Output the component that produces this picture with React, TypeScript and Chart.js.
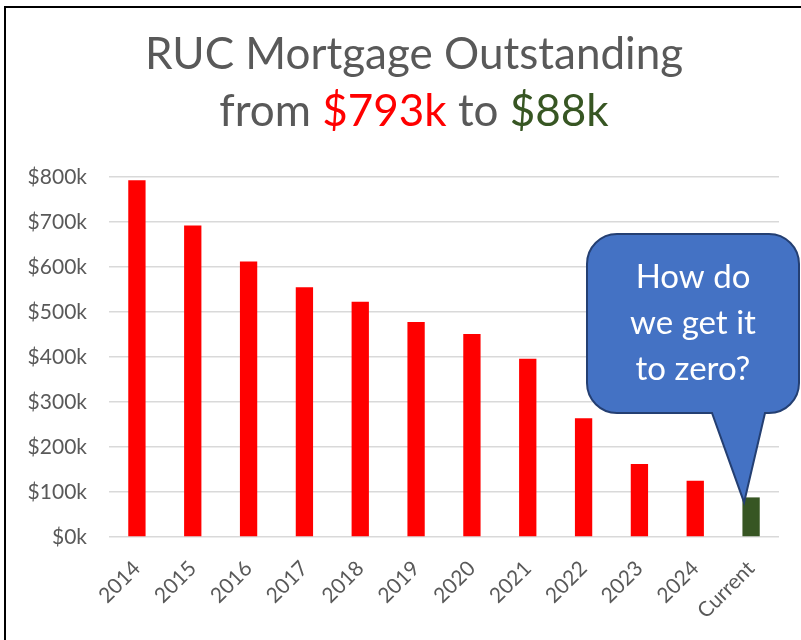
import React, { useEffect, useRef } from 'react';
import { Chart, registerables } from 'chart.js';

Chart.register(...registerables);

// ---- data ----
const categories = ['2014', '2015', '2016', '2017', '2018', '2019', '2020', '2021', '2022', '2023', '2024', 'Current'];
const balancesK = [793, 692, 612, 555, 523, 478, 451, 396, 264, 162, 125, 88];
const yMin = 0;
const yMax = 800;
const yStep = 100;

const titleLine1 = 'RUC Mortgage Outstanding';
const titleLine2Parts = [
  { text: 'from ', role: 'gray' },
  { text: '$793k', role: 'red' },
  { text: ' to ', role: 'gray' },
  { text: '$88k', role: 'green' },
];
const calloutLines = ['How do', 'we get it', 'to zero?'];

// ---- styles ----
const RED = '#FF0000';
const GREEN = '#375623';
const GRAY = '#595959';
const GRID = '#D9D9D9';
const CALLOUT_FILL = '#4472C4';
const CALLOUT_STROKE = '#243F72';
const FONT = 'Lato, "Open Sans", sans-serif';
const roleColor: Record<string, string> = { gray: GRAY, red: RED, green: GREEN };

const barColors = categories.map((c) => (c === 'Current' ? GREEN : RED));

const decorPlugin = {
  id: 'decor',
  afterDraw(chart: any) {
    const ctx = chart.ctx as CanvasRenderingContext2D;
    ctx.save();
    // outer frame (chart border)
    ctx.strokeStyle = '#000000';
    ctx.lineWidth = 2;
    ctx.strokeRect(5, 7, 900, 900);

    // title
    const cx = 414;
    ctx.font = `44px ${FONT}`;
    ctx.fillStyle = GRAY;
    ctx.textBaseline = 'alphabetic';
    ctx.textAlign = 'center';
    ctx.fillText(titleLine1, cx, 69);
    ctx.textAlign = 'left';
    const total = titleLine2Parts.reduce((s, p) => s + ctx.measureText(p.text).width, 0);
    let x = cx - total / 2;
    for (const p of titleLine2Parts) {
      ctx.fillStyle = roleColor[p.role];
      ctx.fillText(p.text, x, 126);
      x += ctx.measureText(p.text).width;
    }

    // callout
    const meta = chart.getDatasetMeta(0);
    const el = meta.data[meta.data.length - 1];
    const tipX = el.x - 7;
    const tipY = el.y + 5;
    const x0 = 587, y0 = 234, x1 = 799, y1 = 413, r = 30;
    const tailL = 712, tailR = 765;
    ctx.beginPath();
    ctx.moveTo(x0 + r, y0);
    ctx.lineTo(x1 - r, y0);
    ctx.arcTo(x1, y0, x1, y0 + r, r);
    ctx.lineTo(x1, y1 - r);
    ctx.arcTo(x1, y1, x1 - r, y1, r);
    ctx.lineTo(tailR, y1);
    ctx.lineTo(tipX, tipY);
    ctx.lineTo(tailL, y1);
    ctx.lineTo(x0 + r, y1);
    ctx.arcTo(x0, y1, x0, y1 - r, r);
    ctx.lineTo(x0, y0 + r);
    ctx.arcTo(x0, y0, x0 + r, y0, r);
    ctx.closePath();
    ctx.fillStyle = CALLOUT_FILL;
    ctx.fill();
    ctx.lineWidth = 2;
    ctx.strokeStyle = CALLOUT_STROKE;
    ctx.stroke();

    ctx.fillStyle = '#FFFFFF';
    ctx.font = `33px ${FONT}`;
    ctx.textAlign = 'center';
    const ccx = (x0 + x1) / 2;
    calloutLines.forEach((line, i) => {
      ctx.fillText(line, ccx, 288 + i * 46);
    });
    ctx.restore();
  },
};

export default function App() {
  const canvasRef = useRef<HTMLCanvasElement | null>(null);

  useEffect(() => {
    const canvas = canvasRef.current;
    if (!canvas) return;
    const chart = new Chart(canvas, {
      type: 'bar',
      data: {
        labels: categories,
        datasets: [
          {
            data: balancesK,
            backgroundColor: barColors,
            borderWidth: 0,
            barPercentage: 0.62,
            categoryPercentage: 0.5,
          },
        ],
      },
      options: {
        responsive: false,
        animation: false,
        layout: { padding: { top: 177, right: 22, left: 0, bottom: 0 } },
        plugins: {
          legend: { display: false },
          tooltip: { enabled: false },
          title: { display: false },
        },
        scales: {
          x: {
            grid: { display: false },
            border: { display: false },
            ticks: {
              color: GRAY,
              font: { family: FONT, size: 21 },
              minRotation: 45,
              maxRotation: 45,
              padding: 11,
            },
            afterFit(scale: any) {
              scale.height = 103;
            },
          },
          y: {
            min: yMin,
            max: yMax,
            grid: { color: GRID, lineWidth: 1.5, drawTicks: false },
            border: { display: false },
            ticks: {
              stepSize: yStep,
              color: GRAY,
              padding: 22,
              font: { family: FONT, size: 21 },
              callback: (v: any) => `$${v}k`,
            },
            afterFit(scale: any) {
              scale.width = 109;
            },
          },
        },
      },
      plugins: [decorPlugin],
    });
    return () => chart.destroy();
  }, []);

  return (
    <div style={{ position: 'fixed', left: 0, top: 0, width: 801, height: 640, background: '#fff', overflow: 'hidden' }}>
      <canvas ref={canvasRef} width={801} height={640} style={{ display: 'block' }} />
    </div>
  );
}
